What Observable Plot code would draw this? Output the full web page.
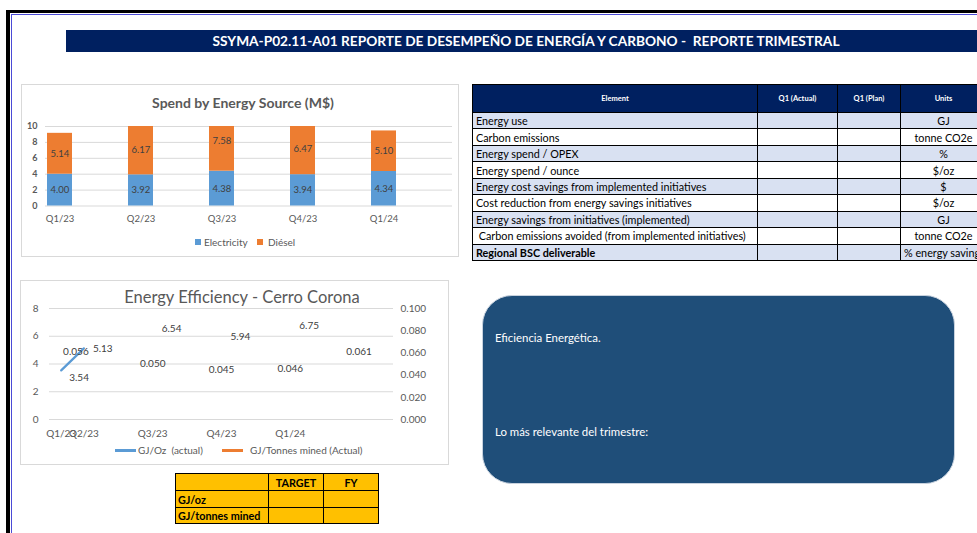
<!DOCTYPE html>
<html>
<head>
<meta charset="utf-8">
<script src="https://cdn.jsdelivr.net/npm/d3@7"></script>
<script src="https://cdn.jsdelivr.net/npm/@observablehq/plot@0.6"></script>
<style>
html,body{margin:0;padding:0;width:977px;height:533px;overflow:hidden;background:#fff;font-family:Lato,"Open Sans",sans-serif;}
.abs{position:absolute;}
#frameBlack{left:6px;top:10px;width:1100px;height:700px;border-left:4px solid #000;border-top:3px solid #000;}
#frameBlue{left:11px;top:14px;width:1100px;height:700px;border-left:1px solid #4b4bd6;border-top:1px solid #4b4bd6;}
#titleBar{left:66px;top:30px;width:920px;height:22px;background:#002060;color:#fff;font-weight:700;font-size:13.7px;line-height:22px;text-align:center;white-space:pre;box-sizing:border-box;}
.box{border:1px solid #d9d9d9;background:#fff;box-sizing:border-box;}
.legend{font-size:10px;color:#595959;white-space:pre;}
table.kpi{border-collapse:collapse;table-layout:fixed;}
table.kpi td{border:1px solid #000;padding:0 3px;font-size:10.8px;color:#000;white-space:nowrap;overflow:visible;box-sizing:border-box;}
table.kpi th{border:1px solid #000;background:#002060;color:#fff;font-size:7.5px;font-weight:700;box-sizing:border-box;}
table.tgt{border-collapse:collapse;table-layout:fixed;}
table.tgt td{border:1px solid #000;background:#ffc000;font-size:10.8px;font-weight:700;color:#000;padding:0 2px;white-space:nowrap;box-sizing:border-box;}
#note{left:482px;top:295px;width:473px;height:189px;border-radius:30px;background:#1f4e79;border:1px solid #c8d2de;box-sizing:border-box;}
.noteText{color:#fff;font-size:11.4px;white-space:nowrap;}
</style>
</head>
<body>
<div id="frameBlack" class="abs"></div>
<div id="frameBlue" class="abs"></div>
<div id="titleBar" class="abs"></div>

<div id="box1" class="abs box" style="left:21px;top:84px;width:438px;height:173px;"></div>
<div id="title1" class="abs" style="left:123px;top:94px;width:240px;height:18px;line-height:18px;text-align:center;font-size:14px;font-weight:700;color:#595959;"></div>
<div id="chart1" class="abs" style="left:22px;top:115px;"></div>
<div id="legend1" class="abs"></div>

<div id="box2" class="abs box" style="left:20px;top:280px;width:429px;height:185px;"></div>
<div id="title2" class="abs" style="left:102px;top:286px;width:280px;height:22px;line-height:22px;text-align:center;font-size:16.5px;color:#595959;"></div>
<div id="chart2" class="abs" style="left:22px;top:300px;"></div>
<div id="legend2" class="abs"></div>

<div id="kpiWrap" class="abs" style="left:472px;top:84px;"></div>
<div id="note" class="abs"></div>
<div id="noteText1" class="abs noteText" style="left:495px;top:331px;"></div>
<div id="noteText2" class="abs noteText" style="left:495px;top:425px;"></div>
<div id="tgtWrap" class="abs" style="left:175px;top:473px;"></div>

<script>
// ---------- data ----------
const reportTitle = "SSYMA-P02.11-A01 REPORTE DE DESEMPEÑO DE ENERGÍA Y CARBONO -  REPORTE TRIMESTRAL";

const spendTitle = "Spend by Energy Source (M$)";
const quarters = ["Q1/23", "Q2/23", "Q3/23", "Q4/23", "Q1/24"];
const electricity = [4.00, 3.92, 4.38, 3.94, 4.34];
const diesel = [5.14, 6.17, 7.58, 6.47, 5.10];
const spendSeries = ["Electricity", "Diésel"];
const spendTicks = [0, 2, 4, 6, 8, 10];

const effTitle = "Energy Efficiency - Cerro Corona";
const effQuarters = ["Q1/23", "Q2/23", "Q3/23", "Q4/23", "Q1/24"];
const gjPerOz = [3.54, 5.13, 6.54, 5.94, 6.75];
const gjPerTonne = [0.056, 0.050, 0.045, 0.046, 0.061];
const ozSlot = [0.67, 1, 2, 3, 4];      // category slot of each GJ/Oz point
const tonneSlot = [1, 2, 3, 4, 5];      // category slot of each GJ/Tonne point
const effSeries = ["GJ/Oz  (actual)", "GJ/Tonnes mined (Actual)"];
const leftTicks = [0, 2, 4, 6, 8];
const rightTicks = [0, 0.02, 0.04, 0.06, 0.08, 0.1];
const rightMax = 0.1, leftMax = 8;

const kpiHeader = ["Element", "Q1 (Actual)", "Q1 (Plan)", "Units"];
const kpiElements = ["Energy use", "Carbon emissions", "Energy spend / OPEX", "Energy spend / ounce",
  "Energy cost savings from implemented initiatives", "Cost reduction from energy savings initiatives",
  "Energy savings from initiatives (implemented)", " Carbon emissions avoided (from implemented initiatives)",
  "Regional BSC deliverable"];
const kpiUnits = ["GJ", "tonne CO2e", "%", "$/oz", "$", "$/oz", "GJ", "tonne CO2e", "% energy savings"];

const targetHeader = ["", "TARGET", "FY"];
const targetRows = ["GJ/oz", "GJ/tonnes mined"];

const noteLines = ["Eficiencia Energética.", "Lo más relevante del trimestre:"];

const spendColors = ["#5b9bd5", "#ed7d31"];
const effColors = ["#5b9bd5", "#ed7d31"];

// ---------- text ----------
document.getElementById("titleBar").textContent = reportTitle;
document.getElementById("title1").textContent = spendTitle;
document.getElementById("title2").textContent = effTitle;
document.getElementById("noteText1").textContent = noteLines[0];
document.getElementById("noteText2").textContent = noteLines[1];

// ---------- chart 1 ----------
const spendRows = quarters.flatMap((q, i) => [
  {q, s: spendSeries[0], v: electricity[i]},
  {q, s: spendSeries[1], v: diesel[i]}
]);

const chart1 = Plot.plot({
  width: 437, height: 115,
  marginTop: 11, marginBottom: 24.5, marginLeft: 23, marginRight: 7,
  style: {fontFamily: "Lato, sans-serif", fontSize: "9.5px", color: "#595959", background: "transparent", overflow: "visible"},
  x: {domain: quarters, paddingInner: 0.69, paddingOuter: 0.35, align: 0.035, label: null},
  y: {domain: [0, 10], clamp: true, label: null},
  color: {domain: spendSeries, range: spendColors},
  marks: [
    Plot.gridY(spendTicks, {stroke: "#d9d9d9", strokeOpacity: 1}),
    Plot.barY(spendRows, {x: "q", y: "v", fill: "s"}),
    Plot.text(spendRows, Plot.stackY({x: "q", y: "v", z: "s", text: d => d.v.toFixed(2), fill: "#404040", fontSize: 9.5})),
    Plot.axisY(spendTicks, {tickSize: 0, tickPadding: 8, fontWeight: 700, fontSize: 9, label: null}),
    Plot.axisX({tickSize: 0, tickPadding: 9, label: null})
  ]
});
document.getElementById("chart1").appendChild(chart1);

const legend1 = document.getElementById("legend1");
legend1.style.cssText = "left:0;top:0;";
[[195, 204], [257, 268]].forEach(([sx, tx], i) => {
  const sw = document.createElement("div");
  sw.className = "abs";
  sw.style.cssText = `left:${sx}px;top:239px;width:6px;height:6px;background:${spendColors[i]};`;
  legend1.appendChild(sw);
  const t = document.createElement("div");
  t.className = "abs legend";
  t.style.cssText = `left:${tx}px;top:235px;line-height:14px;`;
  t.textContent = spendSeries[i];
  legend1.appendChild(t);
});

// ---------- chart 2 ----------
const ozRows = gjPerOz.map((v, i) => ({slot: ozSlot[i], v, q: effQuarters[i]}));
const tonneRows = gjPerTonne.map((v, i) => ({slot: tonneSlot[i], v, vl: v * leftMax / rightMax}));

const chart2 = Plot.plot({
  width: 427, height: 145,
  marginTop: 8, marginBottom: 26, marginLeft: 27, marginRight: 56,
  style: {fontFamily: "Lato, sans-serif", fontSize: "10px", color: "#595959", background: "transparent", overflow: "visible"},
  x: {domain: [0.5, 5.5], label: null},
  y: {domain: [0, leftMax], label: null},
  marks: [
    Plot.gridY(leftTicks, {stroke: "#d9d9d9", strokeOpacity: 1}),
    Plot.line(ozRows, {x: "slot", y: "v", stroke: effColors[0], strokeWidth: 2.25, filter: (d, i) => i < 2}),
    // data labels (Excel places the first pair of labels around the crossing line)
    Plot.text(ozRows, {x: "slot", y: "v", text: d => d.v.toFixed(2), textAnchor: "start", dx: 8, dy: 7, fill: "#404040", fontSize: 10, filter: (d, i) => i === 0}),
    Plot.text(ozRows, {x: "slot", y: "v", text: d => d.v.toFixed(2), textAnchor: "start", dx: 9, fill: "#404040", fontSize: 10, filter: (d, i) => i > 0}),
    Plot.text(tonneRows, {x: "slot", y: "vl", text: d => d.v.toFixed(3), dx: -8, dy: -6, fill: "#404040", fontSize: 10, filter: (d, i) => i === 0}),
    Plot.text(tonneRows, {x: "slot", y: "vl", text: d => d.v.toFixed(3), fill: "#404040", fontSize: 10, filter: (d, i) => i > 0}),
    Plot.axisY(leftTicks, {tickSize: 0, tickPadding: 11, label: null}),
    Plot.axisY(rightTicks.map(t => t * leftMax / rightMax), {anchor: "right", tickSize: 0, tickPadding: 7, label: null,
      tickFormat: d => (d * rightMax / leftMax).toFixed(3)}),
    Plot.axisX(ozSlot, {tickSize: 0, tickPadding: 10, label: null,
      tickFormat: d => effQuarters[ozSlot.indexOf(d)]})
  ]
});
document.getElementById("chart2").appendChild(chart2);

const legend2 = document.getElementById("legend2");
legend2.style.cssText = "left:0;top:0;";
[[115, 138], [222, 250]].forEach(([sx, tx], i) => {
  const sw = document.createElement("div");
  sw.className = "abs";
  sw.style.cssText = `left:${sx}px;top:449px;width:21px;height:2.5px;background:${effColors[i]};`;
  legend2.appendChild(sw);
  const t = document.createElement("div");
  t.className = "abs legend";
  t.style.cssText = `left:${tx}px;top:443px;line-height:14px;`;
  t.textContent = effSeries[i];
  legend2.appendChild(t);
});

// ---------- KPI table ----------
const kpiCols = [285, 80, 63, 86];
let html = `<table class="kpi" style="width:${d3.sum(kpiCols)}px">`;
html += "<colgroup>" + kpiCols.map(w => `<col style="width:${w}px">`).join("") + "</colgroup>";
html += `<tr style="height:28px">` + kpiHeader.map(h => `<th>${h}</th>`).join("") + "</tr>";
kpiElements.forEach((e, i) => {
  const bg = i % 2 === 0 ? "#d9e1f2" : "#ffffff";
  const bold = i === kpiElements.length - 1 ? "font-weight:700;" : "";
  html += `<tr style="height:16.45px;background:${bg}">` +
    `<td style="${bold}">${e.replace(/^ /, "&nbsp;")}</td><td></td><td></td>` +
    `<td style="text-align:center;overflow:visible;">${kpiUnits[i]}</td></tr>`;
});
html += "</table>";
document.getElementById("kpiWrap").innerHTML = html;

// ---------- target table ----------
const tgtCols = [93, 55, 55];
let th = `<table class="tgt" style="width:${d3.sum(tgtCols)}px">`;
th += "<colgroup>" + tgtCols.map(w => `<col style="width:${w}px">`).join("") + "</colgroup>";
th += `<tr style="height:17px">` + targetHeader.map(h => `<td style="text-align:center">${h}</td>`).join("") + "</tr>";
targetRows.forEach((r, i) => {
  th += `<tr style="height:${i === 0 ? 17 : 16}px"><td>${r}</td><td></td><td></td></tr>`;
});
th += "</table>";
document.getElementById("tgtWrap").innerHTML = th;
</script>
</body>
</html>
